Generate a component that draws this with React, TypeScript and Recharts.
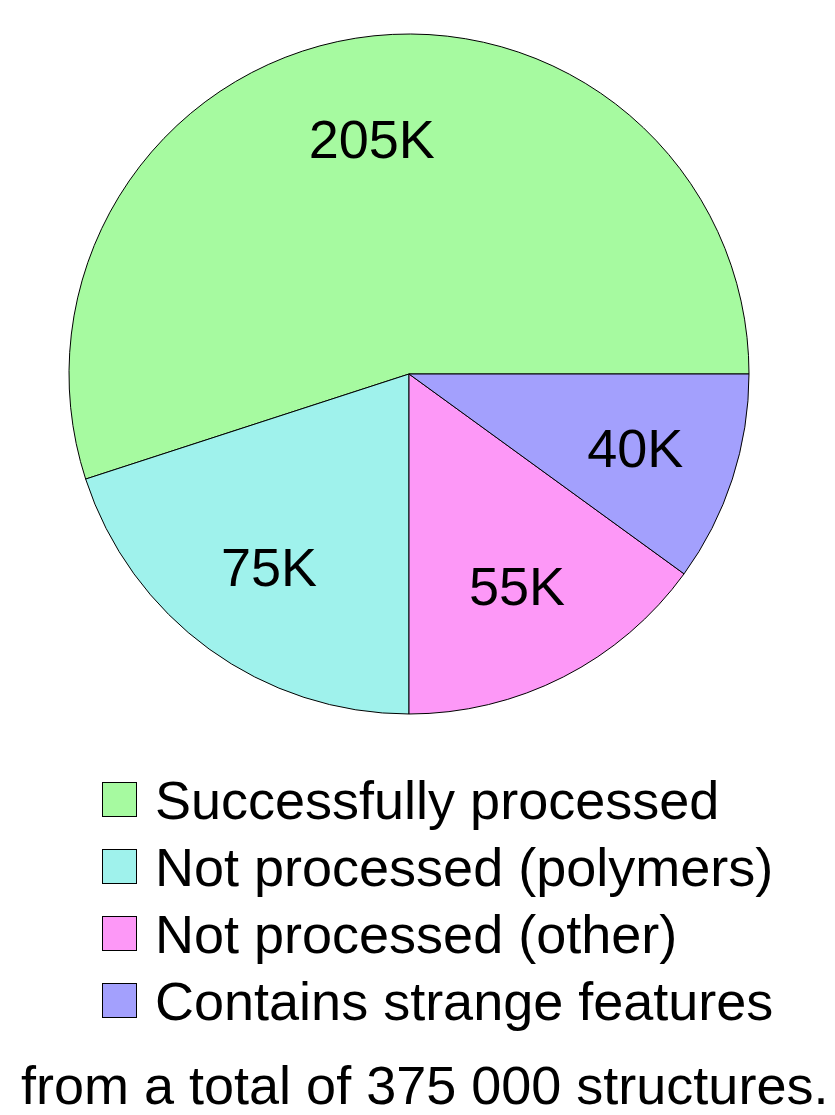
import { PieChart, Pie, Cell, Legend } from 'recharts';

const categories = [
  'Successfully processed',
  'Not processed (polymers)',
  'Not processed (other)',
  'Contains strange features',
];
// slice shares in percent, as drawn
const shares = [55, 20, 15, 10];
const sliceLabels = ['205K', '75K', '55K', '40K'];
const colors = ['#a6faa0', '#9ff2ec', '#fd98f7', '#a3a0fd'];
const footnote = 'from a total of 375 000 structures.';

const data = categories.map((name, i) => ({ name, value: shares[i], label: sliceLabels[i] }));

const FONT = '"Liberation Sans", Arial, Helvetica, sans-serif';
const RAD = Math.PI / 180;

// slice label placed at 70% of the radius
const SliceLabel = (props: any) => {
  const { cx, cy, midAngle, outerRadius, index } = props;
  const r = outerRadius * 0.7;
  const x = cx + r * Math.cos(-midAngle * RAD);
  const y = cy + r * Math.sin(-midAngle * RAD);
  return (
    <text x={x} y={y} textAnchor="middle" dominantBaseline="central" fill="#000" fontSize={54} fontFamily={FONT}>
      {sliceLabels[index]}
    </text>
  );
};

const LegendList = () => (
  <div style={{ fontFamily: FONT }}>
    {categories.map((c, i) => (
      <div key={c} style={{ display: 'flex', alignItems: 'center', height: 67 }}>
        <div
          style={{
            width: 33,
            height: 33,
            background: colors[i],
            border: '1px solid #000',
            marginLeft: 102,
            marginRight: 18,
            flexShrink: 0,
          }}
        />
        <span style={{ fontSize: 54, color: '#000', lineHeight: 1, whiteSpace: 'nowrap' }}>{c}</span>
      </div>
    ))}
  </div>
);

export default function App() {
  return (
    <div style={{ position: 'absolute', left: 0, top: 0, width: 835, height: 1115, background: '#fff', overflow: 'hidden' }}>
      <PieChart width={835} height={1115} margin={{ top: 0, right: 0, bottom: 0, left: 0 }}>
        <Pie
          data={data}
          dataKey="value"
          cx={409}
          cy={374}
          outerRadius={340}
          startAngle={0}
          endAngle={360}
          stroke="#000"
          strokeWidth={1}
          label={<SliceLabel />}
          labelLine={false}
          isAnimationActive={false}
        >
          {data.map((d, i) => (
            <Cell key={d.name} fill={colors[i]} />
          ))}
        </Pie>
        <Legend content={<LegendList />} wrapperStyle={{ position: 'absolute', left: 0, top: 766, width: 835 }} />
      </PieChart>
      <div
        style={{
          position: 'absolute',
          left: 21,
          top: 1061,
          fontFamily: FONT,
          fontSize: 54,
          lineHeight: '48px',
          color: '#000',
          whiteSpace: 'nowrap',
        }}
      >
        {footnote}
      </div>
    </div>
  );
}
